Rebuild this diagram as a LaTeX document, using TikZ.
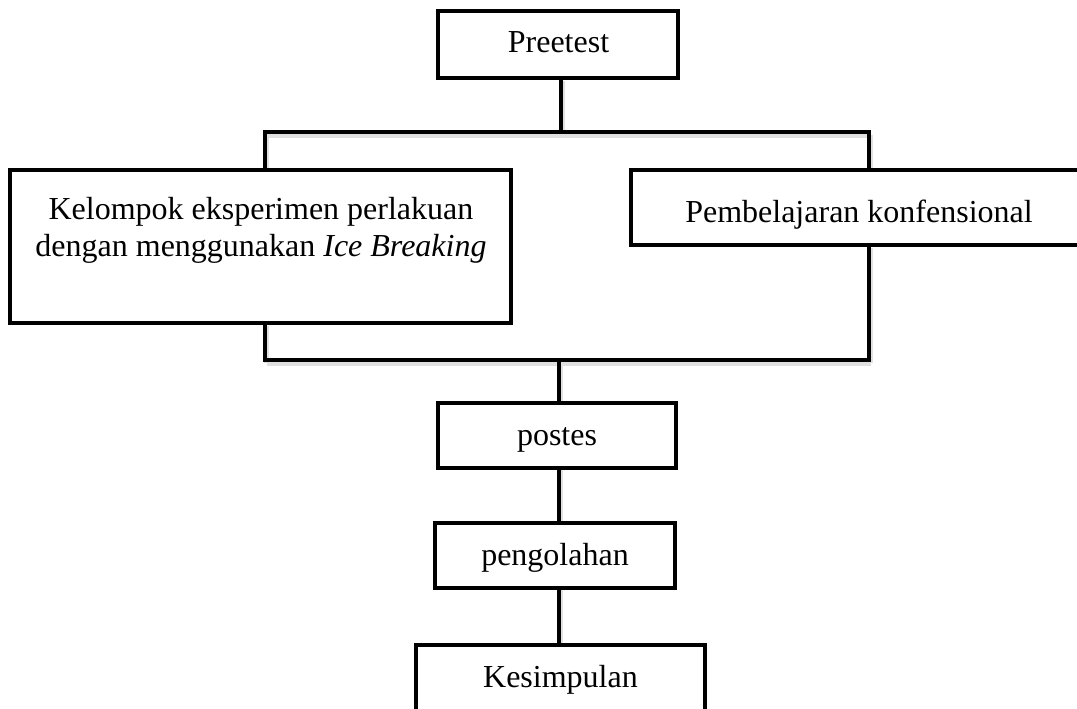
\documentclass[tikz,border=0pt]{standalone}
\usepackage{fontspec}
\setmainfont{Liberation Serif}
\begin{document}
\begin{tikzpicture}[x=1pt,y=-1pt,
  box/.style={draw=black, line width=4pt, rectangle, inner sep=0pt, fill=white},
  lbl/.style={anchor=base, inner sep=0pt, font=\fontsize{32}{36.8}\selectfont, align=center},
  conn/.style={line width=4pt},
  shad/.style={line width=5pt, black!12, transform canvas={shift={(1.5pt,-3pt)}}}
]
\useasboundingbox (0,0) rectangle (1077,709);
% coordinates
\coordinate (tl) at (265,132);
\coordinate (tr) at (869,132);
\coordinate (bl) at (265,360);
\coordinate (br) at (869,360);
\coordinate (mt) at (561,132);
\coordinate (mb) at (559,360);
% shadows of connectors
\draw[shad] (tl) -- (tr);
\draw[shad] (bl) -- (br);
\draw[shad] (mt) -- (561,78);
\draw[shad] (tl) -- (265,170);
\draw[shad] (tr) -- (869,170);
\draw[shad] (bl) -- (265,323);
\draw[shad] (br) -- (869,245);
\draw[shad] (mb) -- (559,645);
% boxes
\node[box, minimum width=240, minimum height=67] (pre) at (558,44.5) {};
\node[box, minimum width=501, minimum height=153] (left) at (260.5,246.5) {};
\node[box, minimum width=448, minimum height=75] (right) at (855,207.5) {};
\node[box, minimum width=238, minimum height=65] (post) at (557,435.5) {};
\node[box, minimum width=240, minimum height=65] (peng) at (555,555.5) {};
\node[box, minimum width=289, minimum height=70] (kes) at (560.5,680) {};
% labels
\node[lbl] (preT) at (558.5,53) {Preetest};
\node[lbl, anchor=north] (leftT) at (261,197) {Kelompok eksperimen perlakuan\\dengan menggunakan \textit{Ice Breaking}};
\node[lbl] (rightT) at (859,222) {Pembelajaran konfensional};
\node[lbl] (postT) at (557,445) {postes};
\node[lbl] (pengT) at (555,565) {pengolahan};
\node[lbl] (kesT) at (560.5,687) {Kesimpulan};
% connectors
\draw[conn] (pre.south -| mt) -- (mt);
\draw[conn, line cap=rect] (tl) -- (tr);
\draw[conn] (tl) -- (tl |- left.north);
\draw[conn] (tr) -- (tr |- right.north);
\draw[conn] (bl |- left.south) -- (bl);
\draw[conn] (br |- right.south) -- (br);
\draw[conn, line cap=rect] (bl) -- (br);
\draw[conn] (mb) -- (mb |- post.north);
\draw[conn] (post.south -| mb) -- (mb |- peng.north);
\draw[conn] (peng.south -| mb) -- (mb |- kes.north);
\end{tikzpicture}
\end{document}
